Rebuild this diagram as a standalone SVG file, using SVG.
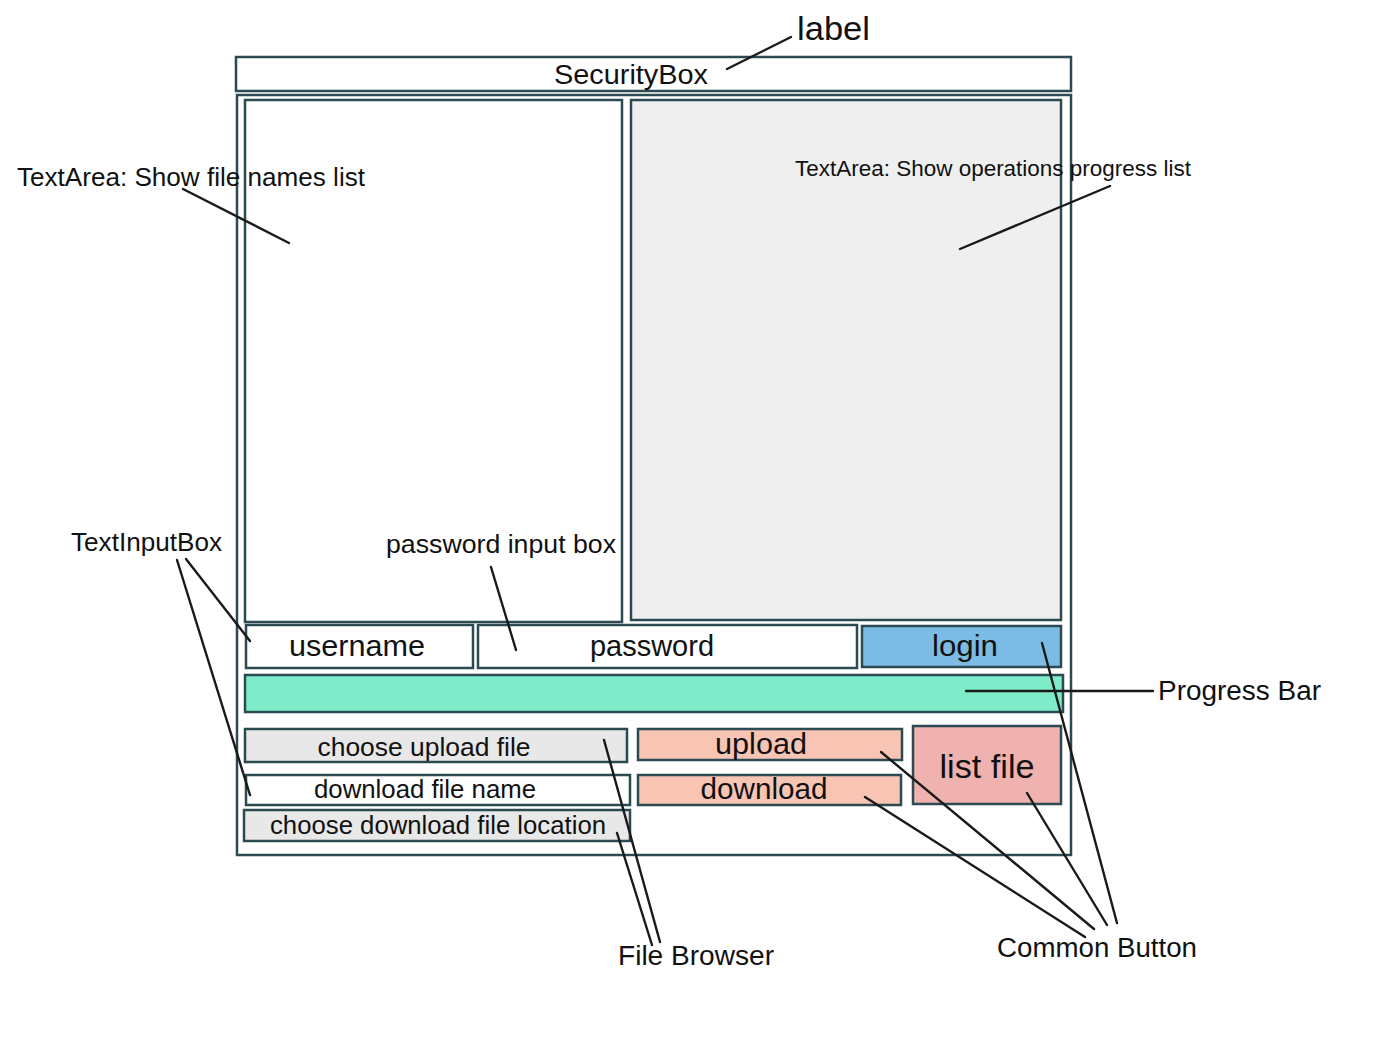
<svg xmlns="http://www.w3.org/2000/svg" width="1384" height="1046" viewBox="0 0 1384 1046">
<style>
.box{stroke:#2b4a52;stroke-width:2.5}
.t{font-family:"Liberation Sans",Arial,sans-serif;fill:#111}
.c{stroke:#1a1a1a;stroke-width:2.4;fill:none;stroke-linecap:round}
</style>
<rect width="1384" height="1046" fill="#fff"/>
<g id="window">
<rect class="box" x="237" y="95" width="834" height="760" fill="#fff"/>
</g>
<g id="securitybox">
<rect class="box" x="236" y="57" width="835" height="34" fill="#fff"/>
<text class="t" x="631" y="84" font-size="27" text-anchor="middle" textLength="154" lengthAdjust="spacingAndGlyphs">SecurityBox</text>
</g>
<g id="filenames">
<rect class="box" x="245" y="100" width="377" height="522" fill="#fff"/>
</g>
<g id="progresslist">
<rect class="box" x="631" y="100" width="430" height="520" fill="#efefef"/>
</g>
<g id="username">
<rect class="box" x="246" y="625" width="227" height="43" fill="#fff"/>
<text class="t" x="357" y="656" font-size="29" text-anchor="middle" textLength="136" lengthAdjust="spacingAndGlyphs">username</text>
</g>
<g id="password">
<rect class="box" x="478" y="625" width="379" height="43" fill="#fff"/>
<text class="t" x="652" y="656" font-size="29" text-anchor="middle" textLength="124" lengthAdjust="spacingAndGlyphs">password</text>
</g>
<g id="login">
<rect class="box" x="862" y="626" width="199" height="41" fill="#7bbbe4"/>
<text class="t" x="965" y="656" font-size="30" text-anchor="middle" textLength="66" lengthAdjust="spacingAndGlyphs">login</text>
</g>
<g id="progressbar">
<rect class="box" x="245" y="675" width="818" height="37" fill="#7eebc9"/>
</g>
<g id="chooseupload">
<rect class="box" x="245" y="729" width="382" height="33" fill="#e8e8e8"/>
<text class="t" x="424" y="756" font-size="25" text-anchor="middle" textLength="213" lengthAdjust="spacingAndGlyphs">choose upload file</text>
</g>
<g id="upload">
<rect class="box" x="638" y="729" width="264" height="31" fill="#f8c4b4"/>
<text class="t" x="761" y="754" font-size="29" text-anchor="middle" textLength="92" lengthAdjust="spacingAndGlyphs">upload</text>
</g>
<g id="listfile">
<rect class="box" x="913" y="726" width="148" height="78" fill="#efb2ae"/>
<text class="t" x="987" y="778" font-size="33" text-anchor="middle" textLength="95" lengthAdjust="spacingAndGlyphs">list file</text>
</g>
<g id="downloadname">
<rect class="box" x="246" y="775" width="384" height="30" fill="#fff"/>
<text class="t" x="425" y="798" font-size="25" text-anchor="middle" textLength="222" lengthAdjust="spacingAndGlyphs">download file name</text>
</g>
<g id="download">
<rect class="box" x="638" y="775" width="263" height="30" fill="#f8c4b4"/>
<text class="t" x="764" y="799" font-size="29" text-anchor="middle" textLength="127" lengthAdjust="spacingAndGlyphs">download</text>
</g>
<g id="chooselocation">
<rect class="box" x="244" y="810" width="386" height="31" fill="#e8e8e8"/>
<text class="t" x="438" y="834" font-size="25" text-anchor="middle" textLength="336" lengthAdjust="spacingAndGlyphs">choose download file location</text>
</g>
<g id="connectors">
<line class="c" x1="727" y1="69" x2="791" y2="37"/>
<line class="c" x1="183" y1="189" x2="289" y2="243"/>
<line class="c" x1="1110" y1="186" x2="960" y2="249"/>
<line class="c" x1="186" y1="559" x2="250" y2="641"/>
<line class="c" x1="177" y1="560" x2="250" y2="795"/>
<line class="c" x1="491" y1="567" x2="516" y2="650"/>
<line class="c" x1="966" y1="691" x2="1153" y2="691"/>
<line class="c" x1="604" y1="740" x2="660" y2="942"/>
<line class="c" x1="617" y1="833" x2="652" y2="945"/>
<line class="c" x1="865" y1="797" x2="1085" y2="937"/>
<line class="c" x1="881" y1="752" x2="1094" y2="929"/>
<line class="c" x1="1027" y1="793" x2="1107" y2="925"/>
<line class="c" x1="1042" y1="643" x2="1117" y2="923"/>
</g>
<g id="annotations">
<text class="t" x="797" y="40" font-size="34" textLength="73" lengthAdjust="spacingAndGlyphs">label</text>
<text class="t" x="17" y="186" font-size="25" textLength="348" lengthAdjust="spacingAndGlyphs">TextArea: Show file names list</text>
<text class="t" x="795" y="176" font-size="22" textLength="396" lengthAdjust="spacingAndGlyphs">TextArea: Show operations progress list</text>
<text class="t" x="71" y="551" font-size="25" textLength="151" lengthAdjust="spacingAndGlyphs">TextInputBox</text>
<text class="t" x="386" y="553" font-size="25" textLength="230" lengthAdjust="spacingAndGlyphs">password input box</text>
<text class="t" x="1158" y="700" font-size="27" textLength="163" lengthAdjust="spacingAndGlyphs">Progress Bar</text>
<text class="t" x="618" y="965" font-size="27" textLength="156" lengthAdjust="spacingAndGlyphs">File Browser</text>
<text class="t" x="997" y="957" font-size="27" textLength="200" lengthAdjust="spacingAndGlyphs">Common Button</text>
</g>
</svg>
